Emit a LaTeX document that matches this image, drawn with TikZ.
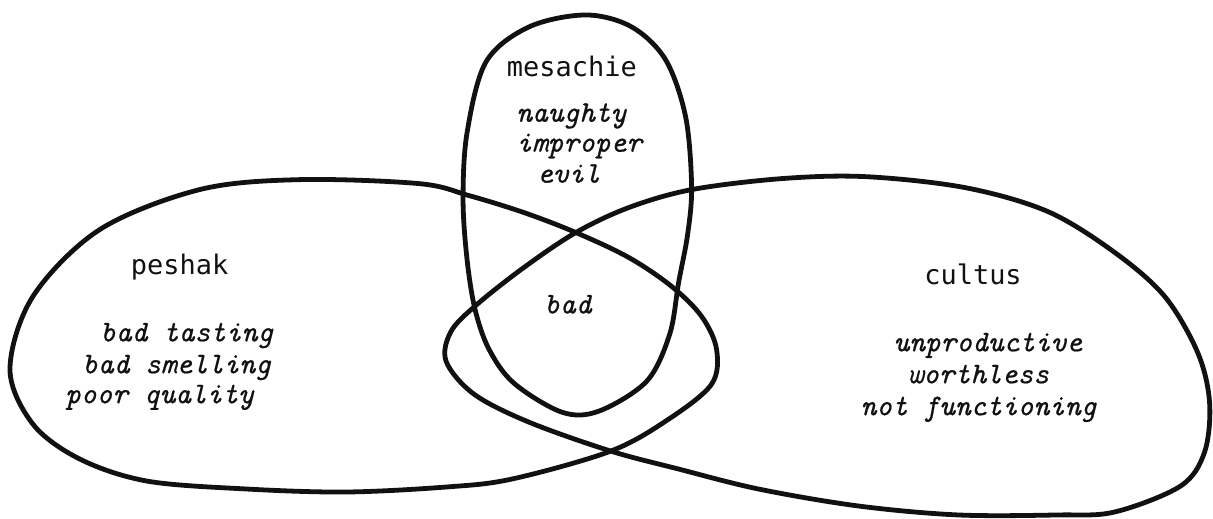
\documentclass[tikz,border=0pt]{standalone}
\usepackage{fontspec}
\usepackage{tikz}
\usetikzlibrary{positioning}
\newfontfamily\labelfont{DejaVu Sans Mono}
\newfontfamily\glossfont{lmmono10-italic.otf}[FakeBold=0.6]
\definecolor{ink}{HTML}{111111}
\tikzset{
  blob/.style={draw=ink,line width=2.4pt,line join=round},
  word/.style={font=\labelfont\fontsize{13.5}{15}\selectfont,text=ink,inner sep=0pt,anchor=base},
  gloss/.style={font=\glossfont\fontsize{15}{16}\selectfont,text=ink,inner sep=0pt,anchor=base west}
}
\begin{document}
\begin{tikzpicture}[x=0.5pt,y=-0.5pt]
  \path[fill=white] (0,0) rectangle (1213,519);
  \draw[blob] plot[smooth cycle,tension=0.55] coordinates {(587,15) (633,27) (667,60) (687,117) (693,187) (689,235) (680,283) (671,335) (648,382) (600,412) (563,413) (515,384) (490,350) (476,310) (468,260) (464,200) (468,133) (487,62) (530,27)};
  \draw[blob] plot[smooth cycle,tension=0.55] coordinates {(300,180) (420,184) (470,196) (525,213) (577,233) (630,258) (673,287) (703,317) (718,350) (713,385) (670,420) (612,452) (513,480) (447,488) (347,493) (247,490) (147,482) (80,460) (33,425) (10,370) (33,297) (100,230) (200,190)};
  \draw[blob] plot[smooth cycle,tension=0.55] coordinates {(693,190) (783,179) (867,177) (967,188) (1050,212) (1117,253) (1167,297) (1200,353) (1212,403) (1207,453) (1183,487) (1117,513) (1060,516) (960,516) (860,507) (760,490) (680,470) (612,452) (530,423) (475,395) (447,362) (452,332) (478,305) (525,268) (577,233) (630,208)};
  \node[word] (mesachie) at (573,77) {mesachie};
  \node[gloss] (naughty) at (517,122) {naughty};
  \node[gloss] (improper) at (517,152) {improper};
  \node[gloss] (evil) at (538,183) {evil};
  \node[gloss,anchor=base] (bad) at (569,314) {bad};
  \node[word] (peshak) at (180,275) {peshak};
  \node[gloss] (tasting) at (100,342) {bad tasting};
  \node[gloss] (smelling) at (82,374) {bad smelling};
  \node[gloss] (quality) at (65,404) {poor quality};
  \node[word] (cultus) at (975,285) {cultus};
  \node[gloss] (unproductive) at (895,352) {unproductive};
  \node[gloss] (worthless) at (909,384) {worthless};
  \node[gloss] (functioning) at (862,416) {not functioning};
  \useasboundingbox (0,0) rectangle (1213,519);
\end{tikzpicture}
\end{document}
